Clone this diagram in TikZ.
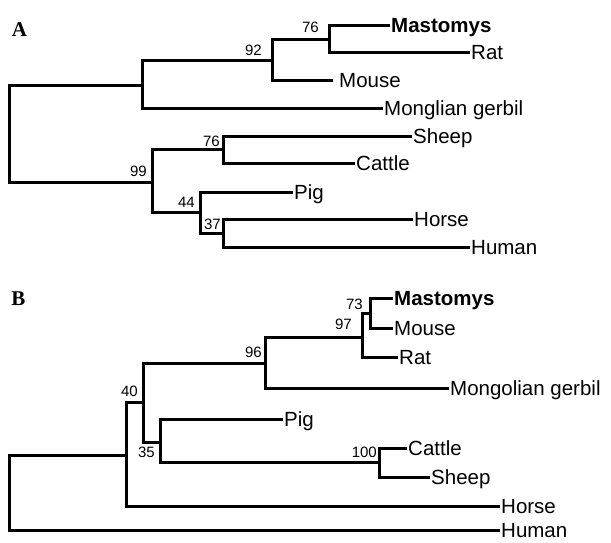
\documentclass[tikz,border=0pt]{standalone}
\usepackage{fontspec}
\setmainfont{Liberation Serif}
\setsansfont{Liberation Sans}
\usepackage{tikz}
\usetikzlibrary{positioning}

\tikzset{
  branch/.style={line width=3pt},
  leaf/.style={anchor=west, inner xsep=1pt, inner ysep=0pt, text height=14.7pt, text depth=0pt,
               font=\sffamily\fontsize{20.5}{20.5}\selectfont},
  boot/.style={inner sep=0pt, font=\sffamily\fontsize{15}{15}\selectfont},
  panel/.style={inner sep=0pt, font=\bfseries\fontsize{21}{21}\selectfont}
}

\begin{document}
\begin{tikzpicture}[x=1pt, y=-1pt]
  \useasboundingbox (0,0) rectangle (611,542);

  % tree A
  \node[panel] (labA) at (19.5,29.5) {A};
  \coordinate (rootA) at (9,133);
  \coordinate (rodA) at (142,85);
  \coordinate (n92) at (272,60);
  \coordinate (n76a) at (329,39);
  \coordinate (n99) at (152,182);
  \coordinate (n76b) at (223,149);
  \coordinate (n44) at (200,212);
  \coordinate (n37) at (223,233);

  \node[leaf] (mastA) at (390,25) {\textbf{Mastomys}};
  \node[leaf] (ratA) at (470,52) {Rat};
  \node[leaf, inner xsep=6pt] (mouseA) at (333,80) {Mouse};
  \node[leaf] (gerbilA) at (383,108) {Monglian gerbil};
  \node[leaf] (sheepA) at (412,136) {Sheep};
  \node[leaf] (cattleA) at (355,163) {Cattle};
  \node[leaf] (pigA) at (293,192) {Pig};
  \node[leaf] (horseA) at (413,219) {Horse};
  \node[leaf] (humanA) at (470,247) {Human};

  \draw[branch] (rootA) |- (rodA) (rootA) |- (n99)
    (rodA) |- (n92) (rodA) |- (gerbilA.west)
    (n92) |- (n76a) (n92) |- (mouseA.west)
    (n76a) |- (mastA.west) (n76a) |- (ratA.west)
    (n99) |- (n76b) (n99) |- (n44)
    (n76b) |- (sheepA.west) (n76b) |- (cattleA.west)
    (n44) |- (pigA.west) (n44) |- (n37)
    (n37) |- (horseA.west) (n37) |- (humanA.west);

  \node[boot, above left=6pt and 10pt of n76a] (b76a) {76};
  \node[boot, above left=4pt and 10pt of n92] (b92) {92};
  \node[boot, above left=5pt and 5pt of n99] (b99) {99};
  \node[boot, above left=2pt and 3pt of n76b] (b76b) {76};
  \node[boot, above left=4pt and 5pt of n44] (b44) {44};
  \node[boot, above left=3pt and 2pt of n37] (b37) {37};

  % tree B
  \node[panel] (labB) at (18.5,299) {B};
  \coordinate (rootB) at (9,493);
  \coordinate (outB) at (126,455);
  \coordinate (n40) at (143,402);
  \coordinate (n96) at (265,363);
  \coordinate (n97) at (362,337);
  \coordinate (n73) at (370,313);
  \coordinate (n35) at (160,442);
  \coordinate (n100) at (379,462);

  \node[leaf] (mastB) at (393,298) {\textbf{Mastomys}};
  \node[leaf] (mouseB) at (393,328) {Mouse};
  \node[leaf] (ratB) at (398,357) {Rat};
  \node[leaf] (gerbilB) at (449,388) {Mongolian gerbil};
  \node[leaf] (pigB) at (283,419) {Pig};
  \node[leaf] (cattleB) at (407,448) {Cattle};
  \node[leaf] (sheepB) at (430,477) {Sheep};
  \node[leaf] (horseB) at (500,506) {Horse};
  \node[leaf] (humanB) at (500,530) {Human};

  \draw[branch] (rootB) |- (outB) (rootB) |- (humanB.west)
    (outB) |- (n40) (outB) |- (horseB.west)
    (n40) |- (n96) (n40) |- (n35)
    (n96) |- (n97) (n96) |- (gerbilB.west)
    (n97) |- (n73) (n97) |- (ratB.west)
    (n73) |- (mastB.west) (n73) |- (mouseB.west)
    (n35) |- (pigB.west) (n35) |- (n100)
    (n100) |- (cattleB.west) (n100) |- (sheepB.west);

  \node[boot, above left=5pt and 5pt of n40] (b40) {40};
  \node[boot, below left=5pt and 5pt of n35] (b35) {35};
  \node[boot, above left=5pt and 3pt of n96] (b96) {96};
  \node[boot, above left=7pt and 10pt of n97] (b97) {97};
  \node[boot, above left=3pt and 7pt of n73] (b73) {73};
  \node[boot, above left=4pt and 2pt of n100] (b100) {100};
\end{tikzpicture}
\end{document}
